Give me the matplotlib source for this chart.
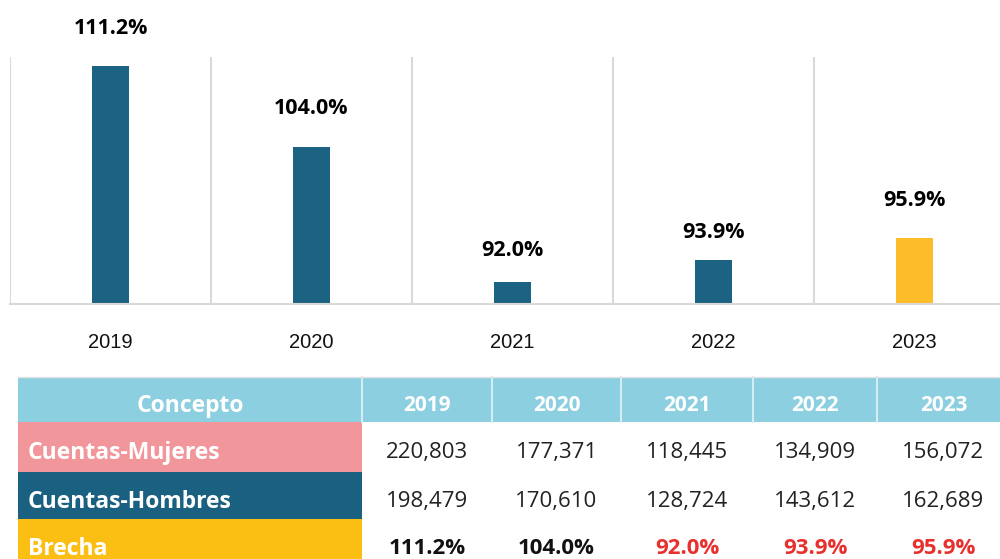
import matplotlib
matplotlib.use("Agg")
import matplotlib.pyplot as plt
from matplotlib.patches import Rectangle

years = ["2019", "2020", "2021", "2022", "2023"]
brecha = [111.2, 104.0, 92.0, 93.9, 95.9]
mujeres = [220803, 177371, 118445, 134909, 156072]
hombres = [198479, 170610, 128724, 143612, 162689]
row_labels = ["Cuentas-Mujeres", "Cuentas-Hombres", "Brecha"]
header_label = "Concepto"

# label offsets above bar top (pixels), as placed in the original
label_offsets_px = [40, 41, 34, 30.5, 40]

BLUE = "#1c6282"
YELLOW = "#fdbd2a"
GRID = "#d9d9d9"
HEAD = "#8ccfe0"
PINK = "#f1979c"
ROWBLUE = "#1a6080"
ROWYEL = "#fbbf14"
RED = "#e8312f"

BOLD = "Open Sans"
REG = "Open Sans"

W, H = 1000, 559
fig = plt.figure(figsize=(10, 5.59), dpi=100)

# ---------- bar chart ----------
ax = fig.add_axes([10 / W, (H - 304) / H, 990 / W, (304 - 57) / H])
x = list(range(len(years)))
colors = [BLUE] * (len(years) - 1) + [YELLOW]
ax.bar(x, [b - 90 for b in brecha], bottom=90, width=0.185, color=colors, zorder=2)
ax.set_ylim(90, 112)
ax.set_xlim(-0.5, len(years) - 0.5 - 15 / 201)
for i in range(len(years)):
    ax.axvline(i - 0.5, color=GRID, lw=1.5, zorder=1)
for s in ["top", "right", "left"]:
    ax.spines[s].set_visible(False)
ax.spines["bottom"].set_color(GRID)
ax.spines["bottom"].set_linewidth(1.5)
ax.set_yticks([])
ax.set_xticks(x)
ax.set_xticklabels(years, fontsize=14.5, family="Liberation Sans", color="#111111")
ax.tick_params(axis="x", length=0, pad=21)
for i, b in enumerate(brecha):
    ax.annotate(f"{b:.1f}%", (i, b), xytext=(0, label_offsets_px[i] * 0.72),
                textcoords="offset points", ha="center", va="center_baseline",
                fontsize=15.5, fontweight="bold", family=BOLD, color="#000000",
                annotation_clip=False)

# ---------- table ----------
tx = fig.add_axes([0, 0, 1, 1])
tx.set_xlim(0, W)
tx.set_ylim(H, 0)
tx.axis("off")

col_edges = [18, 362, 492, 621, 753, 877, 1010]
row_edges = [377, 422, 472, 519, 566]
row_colors = [HEAD, PINK, ROWBLUE, ROWYEL]
text_y = [403, 450, 499, 546]

# header row
tx.add_patch(Rectangle((col_edges[0], row_edges[0]), col_edges[-1] - col_edges[0],
                       row_edges[1] - row_edges[0], color=HEAD, lw=0))
for xe in col_edges[1:-1]:
    tx.plot([xe, xe], [row_edges[0], row_edges[1]], color="#d4edf3", lw=1.5)
tx.plot([col_edges[0], col_edges[-1]], [row_edges[0], row_edges[0]], color="#e3e3e3", lw=1)
tx.text((col_edges[0] + col_edges[1]) / 2, text_y[0], header_label,
        ha="center", va="center_baseline", color="white", fontsize=16.5, fontweight="bold", family=BOLD)
for j, yr in enumerate(years):
    tx.text((col_edges[j + 1] + col_edges[j + 2]) / 2, text_y[0], yr,
            ha="center", va="center_baseline", color="white", fontsize=15, fontweight="bold", family=BOLD)

# data rows
rows = [
    [f"{v:,}" for v in mujeres],
    [f"{v:,}" for v in hombres],
    [f"{v:.1f}%" for v in brecha],
]
for r in range(3):
    y0, y1 = row_edges[r + 1], row_edges[r + 2]
    yc = text_y[r + 1]
    tx.add_patch(Rectangle((col_edges[0], y0), col_edges[1] - col_edges[0], y1 - y0,
                           color=row_colors[r + 1], lw=0))
    tx.text(col_edges[0] + 10, yc, row_labels[r], ha="left", va="center_baseline", color="white",
            fontsize=16.5, fontweight="bold", family=BOLD)
    for j, s in enumerate(rows[r]):
        xc = (col_edges[j + 1] + col_edges[j + 2]) / 2
        if r < 2:
            tx.text(xc, yc, s, ha="center", va="center_baseline", color="#222222",
                    fontsize=16, family=REG)
        else:
            c = "#111111" if brecha[j] >= 100 else RED
            tx.text(xc, yc, s, ha="center", va="center_baseline", color=c, fontsize=16,
                    fontweight="bold", family=BOLD)

fig.savefig("out.png", dpi=100)
